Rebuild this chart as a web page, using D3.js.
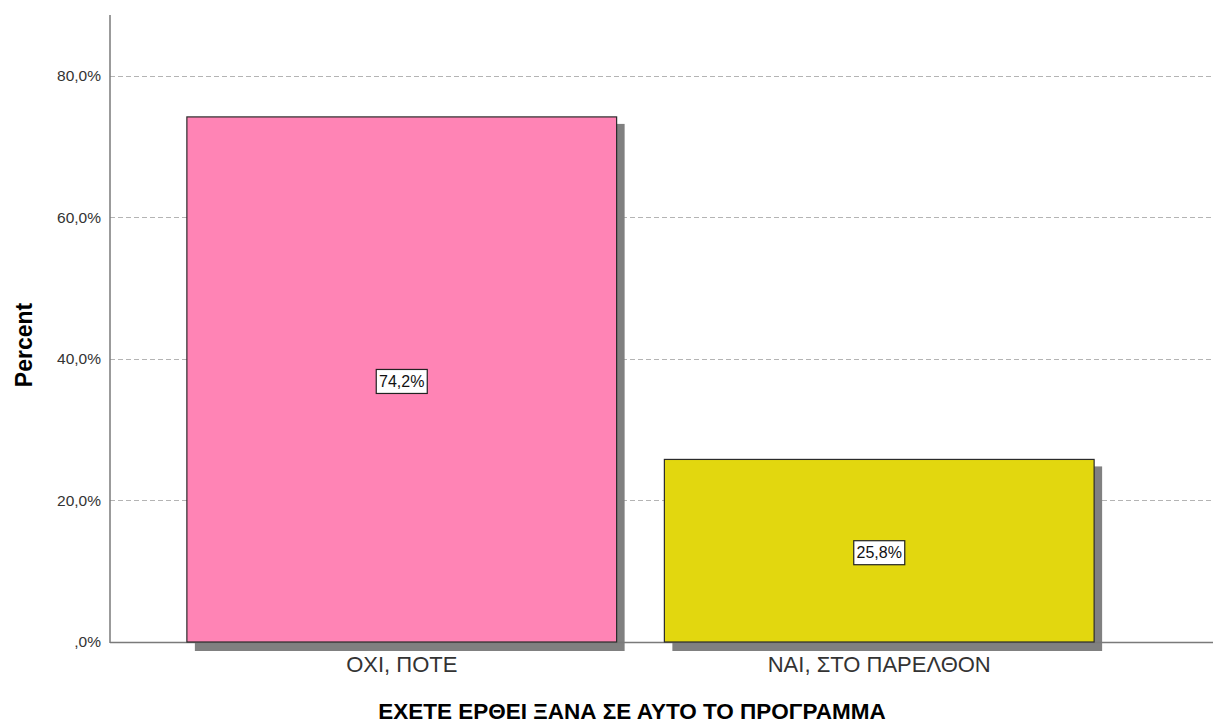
<!DOCTYPE html>
<html>
<head>
<meta charset="utf-8">
<script src="https://cdn.jsdelivr.net/npm/d3@7"></script>
<style>
  html, body { margin: 0; padding: 0; background: #fff; }
  svg { display: block; font-family: Arial, "Liberation Sans", sans-serif; }
</style>
</head>
<body>
<svg id="chart" width="1216" height="725"></svg>
<script>
const categories = ["ΟΧΙ, ΠΟΤΕ", "ΝΑΙ, ΣΤΟ ΠΑΡΕΛΘΟΝ"];
const percents = [74.2, 25.8];
const barColors = ["#FF84B5", "#E2D70F"];
const yTicks = [0, 20, 40, 60, 80];
const xTitle = "ΕΧΕΤΕ ΕΡΘΕΙ ΞΑΝΑ ΣΕ ΑΥΤΟ ΤΟ ΠΡΟΓΡΑΜΜΑ";
const yTitle = "Percent";

const svg = d3.select("#chart");
const plot = { left: 110, right: 1213, top: 15, bottom: 642 };

const fmt = v => {
  let s = d3.format(".1f")(v).replace(".", ",");
  if (s.startsWith("0,")) s = s.slice(1);
  return s + "%";
};

const y = d3.scaleLinear().domain([0, 88.6]).range([plot.bottom, plot.top]);
const x = d3.scaleBand().domain(categories).range([163, 1118])
  .paddingInner(0.1).paddingOuter(0.05);

// gridlines
svg.append("g").selectAll("line").data(yTicks.filter(d => d > 0)).join("line")
  .attr("x1", plot.left).attr("x2", plot.right)
  .attr("y1", d => Math.round(y(d)) + 0.5).attr("y2", d => Math.round(y(d)) + 0.5)
  .attr("stroke", "#b4b4b4").attr("stroke-width", 1).attr("stroke-dasharray", "5,3");

// y tick labels via axis
const yAxis = d3.axisLeft(y).tickValues(yTicks).tickFormat(fmt).tickSize(0).tickPadding(9);
const yg = svg.append("g").attr("transform", `translate(${plot.left},0)`).call(yAxis);
yg.select(".domain").remove();
yg.selectAll("text").attr("font-size", 15.5).attr("fill", "#333").attr("font-family", "Arial, 'Liberation Sans', sans-serif");

// shadows
const sh = 8;
svg.append("g").selectAll("rect").data(percents).join("rect")
  .attr("x", (d, i) => x(categories[i]) + sh)
  .attr("y", d => y(d) + 7)
  .attr("width", x.bandwidth())
  .attr("height", d => plot.bottom - y(d) + 2)
  .attr("fill", "#808080");

// axes lines
svg.append("line").attr("x1", plot.left).attr("x2", plot.right)
  .attr("y1", plot.bottom + 0.5).attr("y2", plot.bottom + 0.5)
  .attr("stroke", "#7a7a7a").attr("stroke-width", 1.5);
svg.append("line").attr("x1", plot.left).attr("x2", plot.left)
  .attr("y1", plot.top).attr("y2", plot.bottom + 1)
  .attr("stroke", "#7a7a7a").attr("stroke-width", 1.5);

// bars
svg.append("g").selectAll("rect").data(percents).join("rect")
  .attr("x", (d, i) => x(categories[i]))
  .attr("y", d => y(d))
  .attr("width", x.bandwidth())
  .attr("height", d => plot.bottom - y(d))
  .attr("fill", (d, i) => barColors[i])
  .attr("stroke", "#2b2b2b").attr("stroke-width", 1.2);

// value labels
const lg = svg.append("g").selectAll("g").data(percents).join("g")
  .attr("transform", (d, i) => `translate(${x(categories[i]) + x.bandwidth() / 2},${(y(d) + plot.bottom) / 2 + 2})`);
lg.append("rect").attr("x", -25.5).attr("y", -12).attr("width", 51).attr("height", 24)
  .attr("fill", "#fff").attr("stroke", "#222").attr("stroke-width", 1.2);
lg.append("text").attr("text-anchor", "middle").attr("dy", "0.36em")
  .attr("font-size", 16).attr("fill", "#111").text(d => fmt(d));

// category labels
const xAxis = d3.axisBottom(x).tickSize(0).tickPadding(14);
const xg = svg.append("g").attr("transform", `translate(0,${plot.bottom})`).call(xAxis);
xg.select(".domain").remove();
xg.selectAll("text").attr("font-size", 22).attr("fill", "#333").attr("font-family", "Arial, 'Liberation Sans', sans-serif");

// titles
svg.append("text").attr("x", 632).attr("y", 719).attr("text-anchor", "middle")
  .attr("font-size", 22.5).attr("font-weight", "bold").attr("fill", "#000").text(xTitle);
svg.append("text").attr("transform", "translate(32,345) rotate(-90)").attr("text-anchor", "middle")
  .attr("font-size", 23).attr("font-weight", "bold").attr("fill", "#000").text(yTitle);
</script>
</body>
</html>
